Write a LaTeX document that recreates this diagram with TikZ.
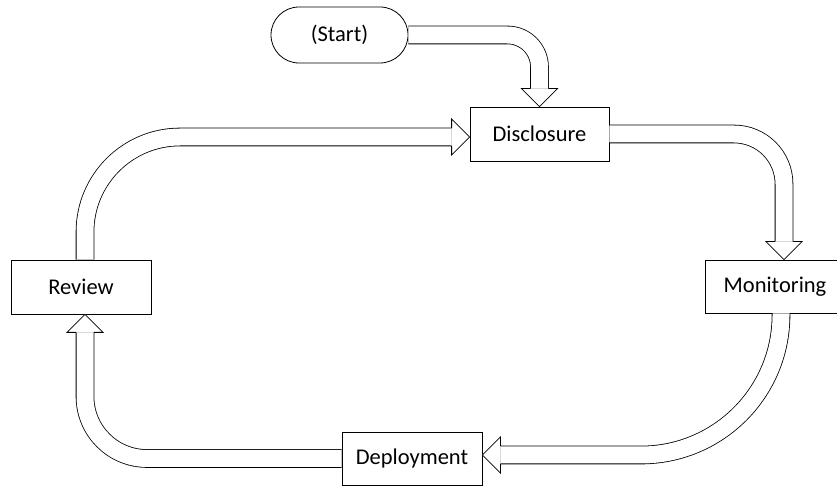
\documentclass[tikz,border=0pt]{standalone}
\usepackage{fontspec}
\setmainfont{Carlito}

\begin{document}
\begin{tikzpicture}[x = 1pt, y = 1pt, font = \fontsize{22.5}{27}\selectfont]
\tikzstyle{boxStyle} = [shape = rectangle, draw, fill = white, line width = 0.8pt, minimum width = 139pt, minimum height = 54pt, inner sep = 0pt]
\tikzstyle{startStyle} = [boxStyle, rounded corners = 28pt, minimum width = 137pt, minimum height = 56pt]
\tikzstyle{flowStyle} = [draw, line width = 0.8pt, double = white, double distance = 17pt]
\tikzset{flowHead/.pic = {
  \fill[white] (-18,18) -- (0,0) -- (-18,-18) -- cycle;
  \draw[line width = 0.8pt] (-18,8.9) -- (-18,18) -- (0,0) -- (-18,-18) -- (-18,-8.9);
}}
\useasboundingbox (0,0) rectangle (837,486);
\node[startStyle] (start) at (339.5,451) {(Start)};
\node[boxStyle] (disclosure) at (539.5,352) {Disclosure};
\node[boxStyle, minimum height = 53pt] (monitoring) at (775,199.5) {Monitoring};
\node[boxStyle, minimum width = 140pt, minimum height = 53pt] (deployment) at (412,27.5) {Deployment};
\node[boxStyle, minimum width = 140pt] (review) at (81,199) {Review};
\coordinate (disc-top) at ([yshift = 18pt]disclosure.north);
\coordinate (disc-left) at ([xshift = -18pt, yshift = -3pt]disclosure.west);
\coordinate (mon-top) at ([xshift = 9pt, yshift = 18pt]monitoring.north);
\coordinate (mon-bottom) at ([xshift = 6pt]monitoring.south);
\coordinate (dep-right) at ([xshift = 18pt, yshift = 3.5pt]deployment.east);
\coordinate (rev-top) at ([xshift = 4pt]review.north);
\coordinate (rev-bottom) at ([xshift = 4pt, yshift = -18pt]review.south);
\draw[flowStyle, rounded corners = 32pt] (start.east) -| (disc-top);
\draw[flowStyle, rounded corners = 50pt] (disclosure.east) -| (mon-top);
\draw[flowStyle, rounded corners = 140pt] (mon-bottom) |- (dep-right);
\draw[flowStyle, rounded corners = 62pt] (deployment.west) -| (rev-bottom);
\draw[flowStyle, rounded corners = 95pt] (rev-top) |- (disc-left);
\pic[rotate = -90] at (disclosure.north) {flowHead};
\pic at ([yshift = -3pt]disclosure.west) {flowHead};
\pic[rotate = -90] at ([xshift = 9pt]monitoring.north) {flowHead};
\pic[rotate = 180] at ([yshift = 3.5pt]deployment.east) {flowHead};
\pic[rotate = 90] at ([xshift = 4pt]review.south) {flowHead};
\end{tikzpicture}
\end{document}
